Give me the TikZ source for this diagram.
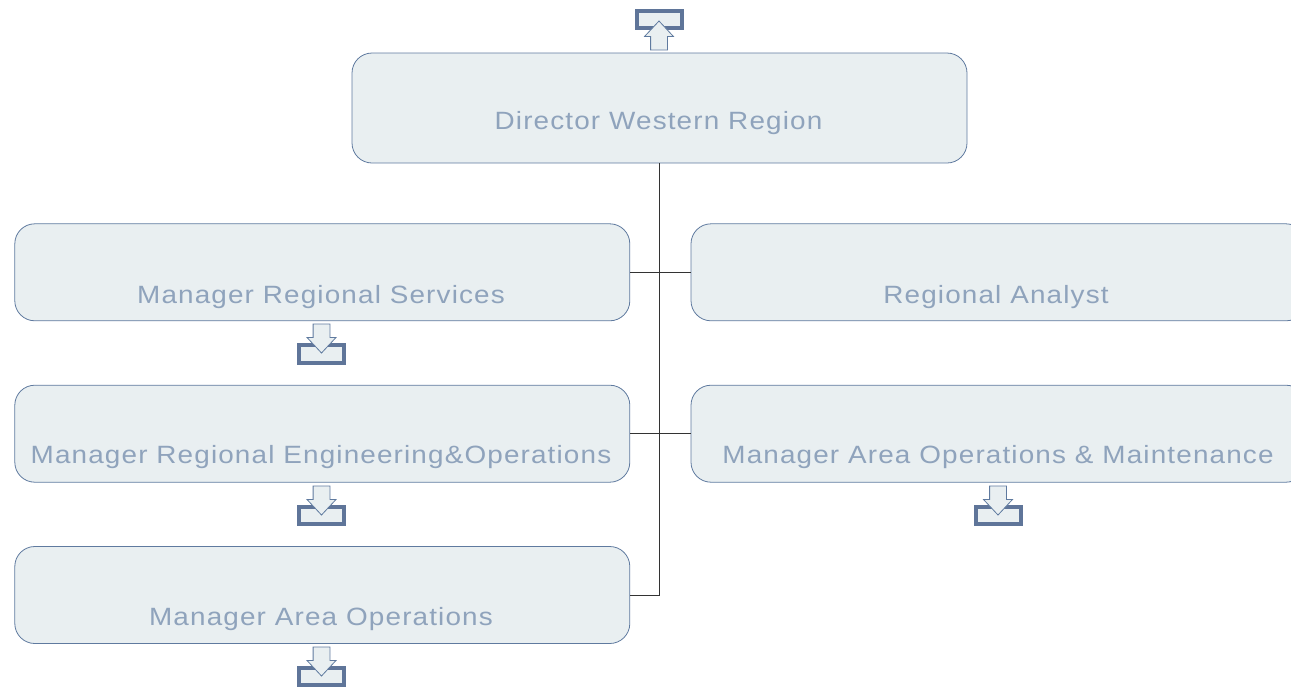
\documentclass[tikz,border=0pt]{standalone}
\usepackage{fontspec}
\setmainfont{Liberation Sans}[LetterSpace=4.6,FakeStretch=1.115]
\usetikzlibrary{shapes.arrows}
\definecolor{boxfill}{HTML}{E9EFF1}
\definecolor{boxline}{HTML}{5F7A9F}
\definecolor{boxtext}{HTML}{8FA3BC}
\definecolor{traycol}{HTML}{5F7599}
\tikzset{
  orgbox/.style={draw=boxline,fill=boxfill,line width=0.8pt,rounded corners=20pt,minimum width=615pt,inner sep=0pt},
  orgtext/.style={text=boxtext,font=\fontsize{25}{30}\selectfont,inner sep=0pt,anchor=base},
  tray/.style={draw=traycol,fill=boxfill,line width=4pt,minimum width=45pt,minimum height=17.5pt,inner sep=0pt},
  stub/.style={single arrow,draw=boxline,fill=boxfill,line width=0.8pt,minimum height=29pt,single arrow head extend=6pt,single arrow tip angle=86,single arrow head indent=0pt,inner sep=8pt},
  link/.style={draw=black!80,line width=0.9pt}
}
\begin{document}
\begin{tikzpicture}[x=1pt,y=-1pt]
\useasboundingbox (0,0) rectangle (1291,686);
\clip (0,0) rectangle (1291,686);
\node[orgbox,minimum height=110pt] (dir) at (659.5,108) {};
\node[orgbox,minimum height=97pt] (ms) at (322.3,272.3) {};
\node[orgbox,minimum height=97pt] (ra) at (998.5,272.3) {};
\node[orgbox,minimum height=97pt] (me) at (322.3,433.7) {};
\node[orgbox,minimum height=97pt] (mo) at (998.5,433.7) {};
\node[orgbox,minimum height=97pt] (ma) at (322.3,595) {};
\node[orgtext] (tdir) at (658.5,129) {Director Western Region};
\node[orgtext] (tms) at (321,303) {Manager Regional Services};
\node[orgtext] (tra) at (996,303) {Regional Analyst};
\node[orgtext] (tme) at (321,463) {Manager Regional Engineering\&Operations};
\node[orgtext] (tmo) at (998,463) {Manager Area Operations \& Maintenance};
\node[orgtext] (tma) at (321,625) {Manager Area Operations};
\draw[link] (dir.south) |- (ms.east);
\draw[link] (dir.south) |- (ra.west);
\draw[link] (dir.south) |- (me.east);
\draw[link] (dir.south) |- (mo.west);
\draw[link] (dir.south) |- (ma.east);
% off-page markers
\node[tray] (up) at (659,19.5) {};
\node[stub,shape border rotate=90] (upa) at (659,40) {};
\node[tray] (t1) at (321.5,354) {};
\node[stub,shape border rotate=270] (a1) at (321.5,334) {};
\node[tray] (t2) at (321.5,515.5) {};
\node[stub,shape border rotate=270] (a2) at (321.5,496) {};
\node[tray] (t3) at (321.5,676.5) {};
\node[stub,shape border rotate=270] (a3) at (321.5,657) {};
\node[tray] (t4) at (998,515.5) {};
\node[stub,shape border rotate=270] (a4) at (998,496) {};
\end{tikzpicture}
\end{document}
